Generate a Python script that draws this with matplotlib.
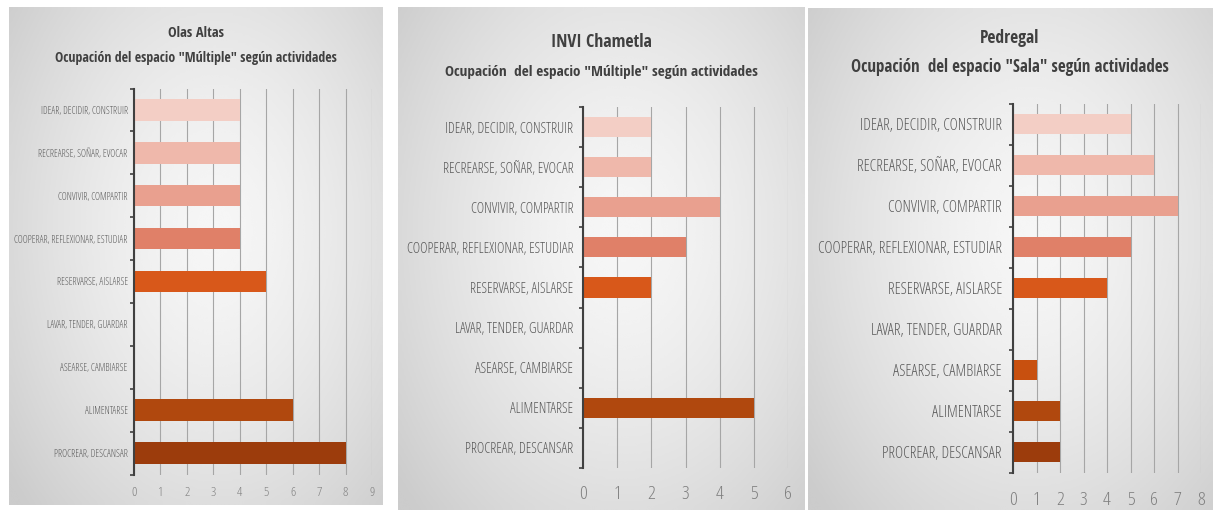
import numpy as np
import matplotlib.pyplot as plt
from matplotlib.ticker import FixedLocator

plt.rcParams['font.family'] = ['Open Sans', 'DejaVu Sans']
plt.rcParams['font.stretch'] = 'condensed'

categories = ['IDEAR, DECIDIR, CONSTRUIR', 'RECREARSE, SOÑAR, EVOCAR',
              'CONVIVIR, COMPARTIR', 'COOPERAR, REFLEXIONAR, ESTUDIAR',
              'RESERVARSE, AISLARSE', 'LAVAR, TENDER, GUARDAR',
              'ASEARSE, CAMBIARSE', 'ALIMENTARSE', 'PROCREAR, DESCANSAR']
bar_colors = ['#f3cec5', '#efb8ab', '#e9a08f', '#e08068', '#d8581a',
              '#d0541a', '#c8500f', '#b0480e', '#9c3c0c']

olas_altas = [4, 4, 4, 4, 5, 0, 0, 6, 8]
invi_chametla = [2, 2, 4, 3, 2, 0, 0, 5, 0]
pedregal = [5, 6, 7, 5, 4, 0, 1, 2, 2]

panels = [
    ('Olas Altas', 'Ocupación del espacio "Múltiple" según actividades', olas_altas, 9),
    ('INVI Chametla', 'Ocupación  del espacio "Múltiple" según actividades', invi_chametla, 6),
    ('Pedregal', 'Ocupación  del espacio "Sala" según actividades', pedregal, 8),
]

W, H = 1215, 512
fig = plt.figure(figsize=(W / 100, H / 100), dpi=100)
renderer = fig.canvas.get_renderer()

# pixel layout: background box, plot box, title/subtitle (y, width), label width, label pad, tick size
boxes = [(9, 7, 383, 505), (398, 7, 805, 510), (808, 8, 1212, 510)]
plots = [(134, 88.5, 372, 474.5), (583, 107, 788, 468), (1013, 103.5, 1201, 472.5)]
titles_px = [((33, 56), (58, 283)), ((42, 101), (72, 314)), ((38, 59), (67, 319))]
label_w = [114, 168, 184]
label_pad = [4.5, 7, 8]
xtick_fs = [9.5, 14, 14]
xtick_pad = [8, 12, 13]


def px_rect(x0, y0, x1, y1):
    return [x0 / W, 1 - y1 / H, (x1 - x0) / W, (y1 - y0) / H]


def fit(texts, target):
    widest = max(t.get_window_extent(renderer).width for t in texts)
    for t in texts:
        t.set_fontsize(t.get_fontsize() * target / widest)


# soft radial gradient for the panel backgrounds
yy, xx = np.mgrid[0:1:200j, 0:1:200j]
r = np.sqrt(((xx - 0.55) / 0.8) ** 2 + ((yy - 0.45) / 0.9) ** 2)
grad = np.clip(0.965 - 0.2 * r ** 1.5, 0.8, 0.97)

for i, (title, sub, vals, xmax) in enumerate(panels):
    box = boxes[i]
    bg = fig.add_axes(px_rect(*box))
    bg.imshow(grad, cmap='gray', vmin=0, vmax=1, aspect='auto',
              extent=(0, 1, 0, 1), interpolation='bicubic')
    bg.axis('off')

    cx = (box[0] + box[2]) / 2 / W
    (ty, tw), (sy, sw) = titles_px[i]
    t1 = fig.text(cx, 1 - ty / H, title, ha='center', va='center', fontsize=12,
                  family=['Open Sans Condensed', 'DejaVu Sans'],
                  fontweight='bold', color='#404040')
    t2 = fig.text(cx, 1 - sy / H, sub, ha='center', va='center', fontsize=12,
                  family=['Open Sans Condensed', 'DejaVu Sans'],
                  fontweight='bold', color='#404040')
    fit([t1], tw)
    fit([t2], sw)

    ax = fig.add_axes(px_rect(*plots[i]))
    ax.patch.set_alpha(0)
    y = np.arange(len(categories))
    ax.barh(y, vals, height=0.5, color=bar_colors, zorder=3)
    ax.set_ylim(len(categories) - 0.5, -0.5)
    ax.set_xlim(0, xmax)
    ax.set_yticks(y)
    labels = ax.set_yticklabels(categories, fontsize=9, color='#595959',
                                fontweight='light')
    fit(labels, label_w[i])
    ax.yaxis.set_minor_locator(FixedLocator(np.arange(-0.5, len(categories), 1)))
    ax.tick_params(axis='y', which='major', length=0, pad=label_pad[i])
    ax.tick_params(axis='y', which='minor', length=3, width=1.2, color='#404040')
    ax.set_xticks(range(xmax + 1))
    ax.tick_params(axis='x', length=0, pad=xtick_pad[i], labelsize=xtick_fs[i],
                   labelcolor='#7f7f7f')
    for t in ax.get_xticklabels():
        t.set_fontweight('light')
    ax.grid(axis='x', color='#a6a6a6', lw=0.8, zorder=0)
    for s in ['top', 'right', 'bottom']:
        ax.spines[s].set_visible(False)
    ax.spines['left'].set_color('#404040')
    ax.spines['left'].set_linewidth(1.5)
    ax.spines['left'].set_zorder(4)

fig.savefig('out.png', dpi=100)
